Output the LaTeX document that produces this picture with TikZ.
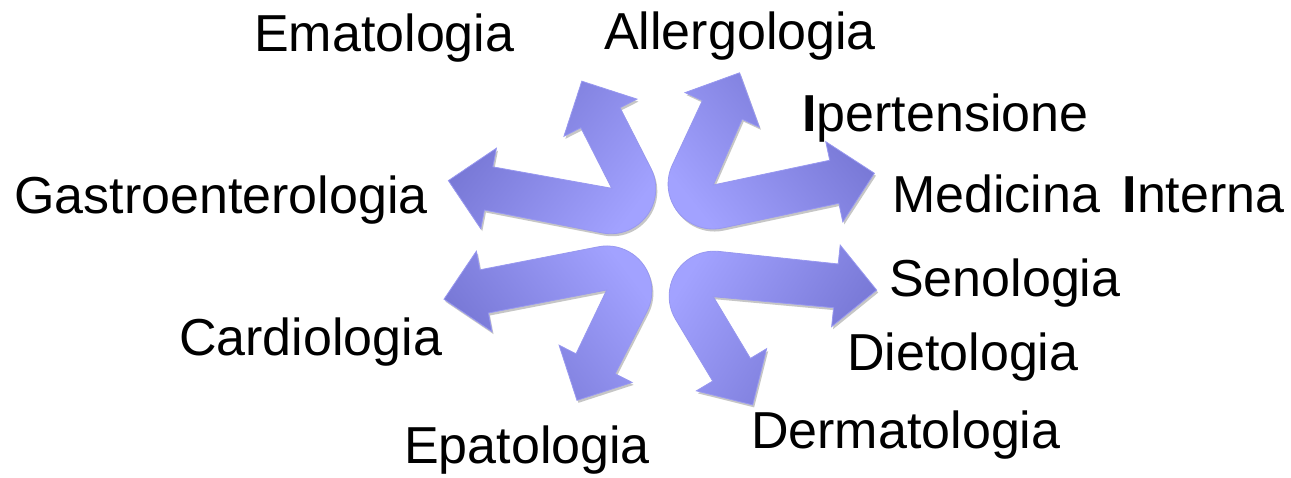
\documentclass[tikz,border=0pt]{standalone}
\usepackage{fontspec}
\setmainfont{Liberation Sans}
\definecolor{arrowdark}{HTML}{7272D0}
\definecolor{arrowlight}{HTML}{A2A2FF}
\definecolor{arrowedge}{HTML}{9898F0}
% #1 options, #2,#3 inner corner, #4 angle arm1, #5 angle arm2 (ccw of arm1), #6 length arm1, #7 length arm2
\newcommand\bentarrow[7]{%
  \path[#1] (#2,#3) -- ++(#4:#6-40) -- ++(#4+90:19) -- ++(#4-45:57.98) -- ++(#4-135:57.98)
    -- ++(#4+90:19) -- ++(#4+180:#6-40)
    arc[start angle=#4-90, end angle=#5-270, radius=45]
    -- ++(#5:#7-40) -- ++(#5+90:19) -- ++(#5-45:57.98) -- ++(#5-135:57.98)
    -- ++(#5+90:19) -- cycle;}
\tikzset{
  arrowbody/.style={draw=arrowedge, line width=0.8, top color=arrowdark, bottom color=arrowlight},
  arrowshadow/.style={fill=gray!45, shift={(1.5,-2.5)}},
  lbl/.style={anchor=base west, inner sep=0pt, font=\fontsize{52}{60}\selectfont}
}
\begin{document}
\begin{tikzpicture}[x=1pt,y=1pt]
\fill[white] (0,0) rectangle (1291,478);
\useasboundingbox (0,0) rectangle (1291,478);
% shadows
\bentarrow{arrowshadow}{611.7}{289.7}{117}{169}{108}{160}
\bentarrow{arrowshadow}{713.3}{293}{12}{65}{159}{111}
\bentarrow{arrowshadow}{606.7}{188}{191}{243}{160.5}{110}
\bentarrow{arrowshadow}{713.3}{181.3}{301}{354}{112}{160}
% arrows
\bentarrow{arrowbody, shading angle=53}{611.7}{289.7}{117}{169}{108}{160}
\bentarrow{arrowbody, shading angle=-51.5}{713.3}{293}{12}{65}{159}{111}
\bentarrow{arrowbody, shading angle=127}{606.7}{188}{191}{243}{160.5}{110}
\bentarrow{arrowbody, shading angle=237.5}{713.3}{181.3}{301}{354}{112}{160}
% labels
\node[lbl] (ema) at (254,426) {Ematologia};
\node[lbl] (all) at (604,428) {Allergologia};
\node[lbl] (ipe) at (802,346) {\textbf{I}pertensione};
\node[lbl] (med) at (892,265) {Medicina\hspace{0.15em} \textbf{I}nterna};
\node[lbl] (gas) at (14,264) {Gastroenterologia};
\node[lbl] (sen) at (889,181) {Senologia};
\node[lbl] (car) at (179,122) {Cardiologia};
\node[lbl] (die) at (847,107) {Dietologia};
\node[lbl] (der) at (751,29) {Dermatologia};
\node[lbl] (epa) at (404,14) {Epatologia};
\end{tikzpicture}
\end{document}
